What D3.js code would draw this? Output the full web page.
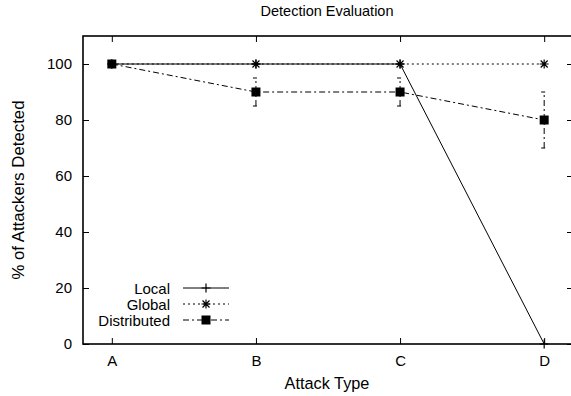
<!DOCTYPE html>
<html>
<head>
<meta charset="utf-8">
<script src="https://cdn.jsdelivr.net/npm/d3@7"></script>
<style>
  body { margin: 0; background: #fff; }
  text { font-family: "Liberation Sans", Arial, sans-serif; fill: #000; }
</style>
</head>
<body>
<div id="chart"></div>
<script>
// data
var categories = ["A", "B", "C", "D"];
var localVals = [100, 100, 100, 0];
var globalVals = [100, 100, 100, 100];
var distVals = [100, 90, 90, 80];
var distLow = [100, 85, 85, 70];
var distHigh = [100, 95, 95, 90];
var yTicks = [0, 20, 40, 60, 80, 100];

var svgWidth = 571;
var svgHeight = 396;
var margin = { top: 36, right: -2, bottom: 52, left: 83 };
var width = svgWidth - margin.left - margin.right;
var height = svgHeight - margin.top - margin.bottom;
var fs = "15px";

var svg = d3.select("#chart").append("svg")
    .attr("width", svgWidth)
    .attr("height", svgHeight);

var g = svg.append("g")
    .attr("transform", `translate(${margin.left}, ${margin.top})`);

var x = d3.scaleLinear().domain([-0.2, 3.2]).range([0, width]);
var y = d3.scaleLinear().domain([0, 110]).range([height, 0]);

// axes, ticks pointing inward
var bottomAxis = d3.axisBottom(x).tickValues([0, 1, 2, 3])
    .tickFormat(function (d) { return categories[d]; })
    .tickSizeInner(-6).tickSizeOuter(0).tickPadding(11);
var leftAxis = d3.axisLeft(y).tickValues(yTicks)
    .tickSizeInner(-6).tickSizeOuter(0).tickPadding(11);

g.append("g").attr("transform", `translate(0, ${height})`).call(bottomAxis);
g.append("g").call(leftAxis);
// mirrored ticks on top and right
g.append("g").call(d3.axisTop(x).tickValues([0, 1, 2, 3]).tickFormat("").tickSizeInner(-6).tickSizeOuter(0));
g.append("g").attr("transform", `translate(${width}, 0)`)
    .call(d3.axisRight(y).tickValues(yTicks).tickFormat("").tickSizeInner(-6).tickSizeOuter(0));

g.selectAll(".domain").remove();
g.selectAll(".tick line").attr("stroke", "#000");
g.selectAll(".tick text").style("font-size", fs)
    .style("font-family", "Liberation Sans, Arial, sans-serif");

// frame
g.append("rect")
    .attr("width", width).attr("height", height)
    .attr("fill", "none").attr("stroke", "#000").attr("stroke-width", 1.6);

var idx = [0, 1, 2, 3];
var line = function (vals) {
    return d3.line().x(function (d) { return x(d); }).y(function (d) { return y(vals[d]); })(idx);
};

var dashDot = "6,3,2,3";
var dotted = "2,3";

// Distributed error bars
idx.forEach(function (i) {
    if (distLow[i] === distHigh[i]) return;
    g.append("line")
        .attr("x1", x(i)).attr("x2", x(i))
        .attr("y1", y(distLow[i])).attr("y2", y(distHigh[i]))
        .attr("stroke", "#000").attr("stroke-dasharray", dashDot);
    [distLow[i], distHigh[i]].forEach(function (v) {
        g.append("line")
            .attr("x1", x(i) - 3).attr("x2", x(i) + 1)
            .attr("y1", y(v)).attr("y2", y(v))
            .attr("stroke", "#000");
    });
});

// series lines
g.append("path").attr("d", line(distVals))
    .attr("fill", "none").attr("stroke", "#000").attr("stroke-dasharray", dashDot);
g.append("path").attr("d", line(globalVals))
    .attr("fill", "none").attr("stroke", "#000").attr("stroke-dasharray", dotted);
g.append("path").attr("d", line(localVals))
    .attr("fill", "none").attr("stroke", "#000");

function plusMark(sel, cx, cy) {
    sel.append("path")
        .attr("d", `M${cx - 4.5},${cy}H${cx + 4.5}M${cx},${cy - 4.5}V${cy + 4.5}`)
        .attr("stroke", "#000").attr("stroke-width", 1.2);
}
function starMark(sel, cx, cy) {
    sel.append("path")
        .attr("d", `M${cx - 4.5},${cy}H${cx + 4.5}M${cx},${cy - 4.5}V${cy + 4.5}` +
            `M${cx - 3.5},${cy - 3.5}L${cx + 3.5},${cy + 3.5}M${cx - 3.5},${cy + 3.5}L${cx + 3.5},${cy - 3.5}`)
        .attr("stroke", "#000").attr("stroke-width", 1.2);
}
function boxMark(sel, cx, cy) {
    sel.append("rect")
        .attr("x", cx - 4.5).attr("y", cy - 4.5).attr("width", 9).attr("height", 9)
        .attr("fill", "#000");
}

idx.forEach(function (i) {
    plusMark(g, x(i), y(localVals[i]));
    starMark(g, x(i), y(globalVals[i]));
    boxMark(g, x(i), y(distVals[i]));
});

// legend
var legend = [
    { name: "Local", dash: null, mark: plusMark },
    { name: "Global", dash: dotted, mark: starMark },
    { name: "Distributed", dash: dashDot, mark: boxMark }
];
legend.forEach(function (d, i) {
    var ly = 288 + i * 16 - margin.top;
    var lx = 170 - margin.left;
    g.append("text").attr("x", lx).attr("y", ly + 5.5)
        .attr("text-anchor", "end").style("font-size", fs).text(d.name);
    g.append("line").attr("x1", lx + 13).attr("x2", lx + 59)
        .attr("y1", ly).attr("y2", ly)
        .attr("stroke", "#000").attr("stroke-dasharray", d.dash);
    d.mark(g, lx + 36, ly);
});

// titles
svg.append("text").attr("x", 327).attr("y", 16)
    .attr("text-anchor", "middle").style("font-size", "14.5px").text("Detection Evaluation");
svg.append("text").attr("x", 327).attr("y", 389)
    .attr("text-anchor", "middle").style("font-size", "16.3px").text("Attack Type");
svg.append("text")
    .attr("transform", `translate(24, ${margin.top + height / 2}) rotate(-90)`)
    .attr("text-anchor", "middle").style("font-size", "16.8px").text("% of Attackers Detected");
</script>
</body>
</html>
